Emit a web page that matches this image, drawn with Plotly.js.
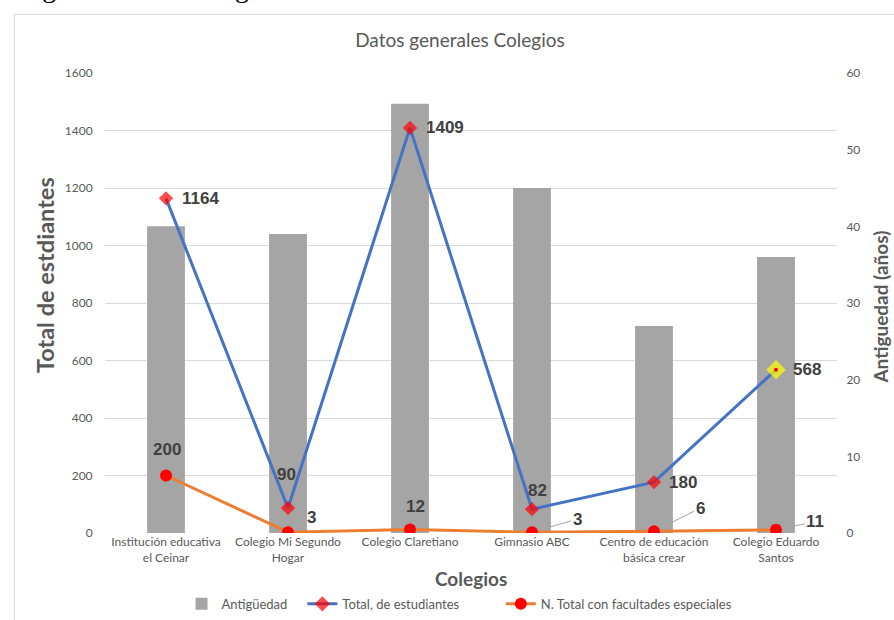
<!DOCTYPE html>
<html>
<head>
<meta charset="utf-8">
<script src="https://cdn.plot.ly/plotly-3.0.1.min.js"></script>
<style>
html,body{margin:0;padding:0;width:894px;height:620px;overflow:hidden;background:#fff;}
#chart{position:absolute;left:0;top:0;width:894px;height:620px;}
#frame{position:absolute;left:14px;top:14px;width:920px;height:700px;border:1px solid #d9d9d9;pointer-events:none;z-index:5;}
#doc{position:absolute;left:-30px;top:-28px;font-family:"Liberation Serif",serif;font-size:28px;color:#000;white-space:nowrap;z-index:6;}
</style>
</head>
<body>
<div id="doc">Datos generales de colegios</div>
<div id="chart"></div>
<div id="frame"></div>
<script>
const categories = ["Institución educativa el Ceinar","Colegio Mi Segundo Hogar","Colegio Claretiano","Gimnasio ABC","Centro de educación básica crear","Colegio Eduardo Santos"];
const tickLabels = ["Institución educativa<br>el Ceinar","Colegio Mi Segundo<br>Hogar","Colegio Claretiano","Gimnasio ABC","Centro de educación<br>básica crear","Colegio Eduardo<br>Santos"];
const seriesNames = ["Antigüedad", "Total, de estudiantes", "N. Total con facultades especiales"];
const antiguedad = [40, 39, 56, 45, 27, 36];
const totalEstudiantes = [1164, 87, 1409, 83, 177, 568];
const totalLabels = [1164, 90, 1409, 82, 180, 568];
const facultades = [200, 3, 12, 3, 6, 11];

// label offsets (px) — style only
const totOff = [[14,0,'left'],[-2,33,'center'],[14,0,'left'],[5,19,'center'],[13,0,'left'],[15,0,'left']];
const facOff = [[1,26,'center'],[23,15,'center'],[5,23,'center'],[null,null],[null,null],[null,null]];
const facArrow = [null,null,null,[45,-13],[46,-23],[39,-8]];
const pad = n => '&nbsp;'.repeat(n);

const gray = '#595959';
const traces = [
  {type:'bar', x:categories, y:antiguedad, yaxis:'y', name:seriesNames[0] + pad(3), width:0.31,
   marker:{color:'#A5A5A5'}, hoverinfo:'y'},
  {type:'scatter', mode:'lines+markers', x:categories, y:totalEstudiantes, yaxis:'y2', name:seriesNames[1] + pad(11),
   line:{color:'#4472C4', width:3},
   marker:{symbol:'diamond', size:[11,11,11,11,11,15], color:['#FF0000','#FF0000','#FF0000','#FF0000','#FF0000','#FFFF00'], line:{width:0}}},
  {type:'scatter', mode:'lines+markers', x:categories, y:facultades, yaxis:'y2', name:seriesNames[2],
   line:{color:'#ED7D31', width:3},
   marker:{symbol:'circle', size:12, color:'#FF0000'}},
  {type:'scatter', mode:'markers', x:[categories[5]], y:[totalEstudiantes[5]], yaxis:'y2', showlegend:false,
   marker:{symbol:'circle', size:4, color:'#FF0000'}, hoverinfo:'skip'}
];

const ann = [];
const lblFont = {family:'Liberation Sans, Arial, sans-serif', size:17, color:'#404040', weight:'bold'};
categories.forEach((c,i)=>{
  const o = totOff[i];
  ann.push({x:c, y:totalEstudiantes[i], xref:'x', yref:'y2', text:'<b>'+totalLabels[i]+'</b>', showarrow:false,
    xanchor:o[2], yanchor:'middle', xshift:o[0], yshift:o[1], font:lblFont});
  if (facArrow[i]) {
    ann.push({x:c, y:facultades[i], xref:'x', yref:'y2', text:'<b>'+facultades[i]+'</b>', showarrow:true,
      arrowhead:0, arrowwidth:1, arrowcolor:'#A6A6A6', ax:facArrow[i][0], ay:facArrow[i][1], standoff:18, font:lblFont});
  } else {
    const f = facOff[i];
    ann.push({x:c, y:facultades[i], xref:'x', yref:'y2', text:'<b>'+facultades[i]+'</b>', showarrow:false,
      xanchor:f[2], yanchor:'middle', xshift:f[0], yshift:f[1], font:lblFont});
  }
});
ann.push({xref:'paper', yref:'paper', x:-0.081, y:0.56, text:'<b>Total de estdiantes</b>', textangle:-90, showarrow:false,
  xanchor:'center', yanchor:'middle', font:{family:'Lato, sans-serif', size:23.5, color:gray}});
ann.push({xref:'paper', yref:'paper', x:1.06, y:0.492, text:'<b>Antiguedad (años)</b>', textangle:-90, showarrow:false,
  xanchor:'center', yanchor:'middle', font:{family:'Lato, sans-serif', size:19, color:gray}});
ann.push({xref:'paper', yref:'paper', x:0.5, y:-0.0985, text:'<b>Colegios</b>', showarrow:false,
  xanchor:'center', yanchor:'middle', font:{family:'Lato, sans-serif', size:19, color:gray}});

const layout = {
  width:894, height:620,
  margin:{l:105, r:57, t:73, b:87},
  paper_bgcolor:'#fff', plot_bgcolor:'#fff',
  font:{family:'Lato, sans-serif', color:gray, size:12},
  title:{text:'Datos generales Colegios', xref:'container', x:0.5145, xanchor:'center', yref:'container', y:0.935, yanchor:'middle',
    font:{family:'Lato, sans-serif', size:19, color:gray}},
  showlegend:true,
  legend:{orientation:'h', xref:'container', yref:'container', x:0.514, xanchor:'center', y:0.026, yanchor:'middle',
    font:{family:'Lato, sans-serif', size:13, color:gray}, itemwidth:30, traceorder:'normal'},
  xaxis:{type:'category', range:[-0.5,5.5], tickmode:'array', tickvals:categories, ticktext:tickLabels,
    showgrid:false, zeroline:false, showline:false, ticks:'', tickfont:{size:12, color:gray}},
  yaxis:{range:[0,60], dtick:10, side:'right', showgrid:false, zeroline:false, showline:false,
    ticks:'outside', ticklen:6, tickcolor:'rgba(0,0,0,0)', tickfont:{size:12, color:gray}},
  yaxis2:{range:[0,1600], dtick:200, overlaying:'y', side:'left', showgrid:true, gridcolor:'#D9D9D9', gridwidth:1, zeroline:false, showline:false,
    ticks:'outside', ticklen:9, tickcolor:'rgba(0,0,0,0)', tickfont:{size:12, color:gray}},
  annotations:ann,
  bargap:0.69
};
Plotly.newPlot('chart', traces, layout, {displayModeBar:false, staticPlot:true});
</script>
</body>
</html>
